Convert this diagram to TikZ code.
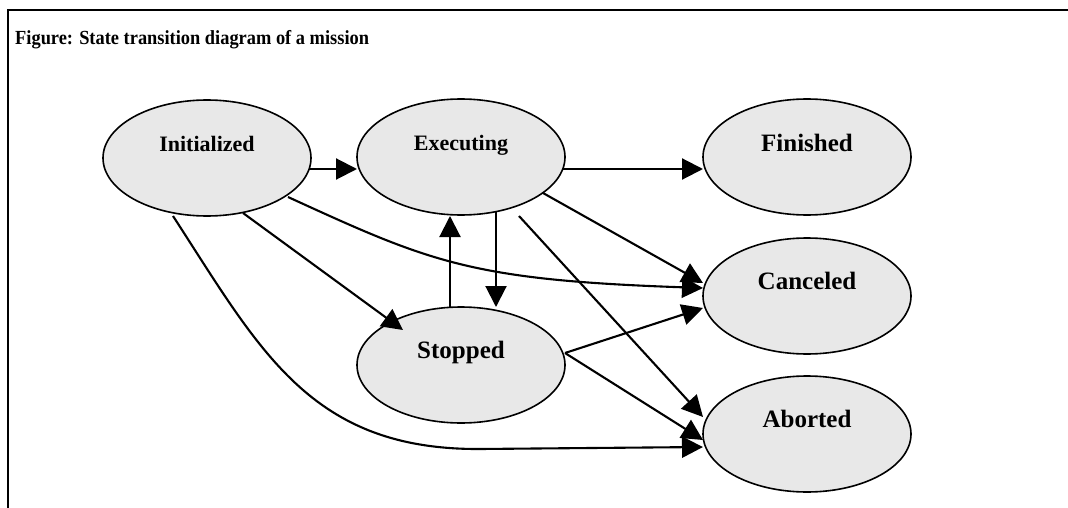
\documentclass[tikz,border=0pt]{standalone}
\usepackage{fontspec}
\setmainfont{Liberation Serif}
\usetikzlibrary{shapes.geometric,arrows.meta,calc}
\definecolor{statefill}{RGB}{232,232,232}
\begin{document}
\begin{tikzpicture}[x=1pt,y=-1pt,
  state/.style={ellipse, draw, line width=1.6pt, fill=statefill,
    minimum width=208pt, minimum height=116pt, inner sep=0pt},
  smalltext/.style={font=\bfseries\fontsize{22}{24}\selectfont, anchor=base, inner sep=0pt},
  bigtext/.style={font=\bfseries\fontsize{25}{27}\selectfont, anchor=base, inner sep=0pt},
  trans/.style={line width=2.1pt, -{Triangle[length=21pt,width=21pt]}},
  frameline/.style={line width=2.6pt}]
\useasboundingbox (0,0) rectangle (1068,508);

% frame and caption
\draw[frameline] (8,508) -- (8,10) -- (1068,10);
\node[anchor=base west, inner sep=0pt, font=\bfseries\fontsize{20}{22}\selectfont]
  (title) at (15,45) {\scalebox{0.92}[1]{Figure: State transition diagram of a mission}};

% states
\node[state] (init)  at (207,158) {};
\node[state] (exec)  at (461,157) {};
\node[state] (fin)   at (807,157) {};
\node[state] (stop)  at (461,365) {};
\node[state] (canc)  at (807,296) {};
\node[state] (abort) at (807,434) {};

\node[smalltext] (init-l)  at ($(init.center)+(0,-7)$)  {Initialized};
\node[smalltext] (exec-l)  at ($(exec.center)+(0,-7)$)  {Executing};
\node[bigtext]   (fin-l)   at ($(fin.center)+(0,-6)$)   {Finished};
\node[bigtext]   (stop-l)  at ($(stop.center)+(0,-7)$)  {Stopped};
\node[bigtext]   (canc-l)  at ($(canc.center)+(0,-7)$)  {Canceled};
\node[bigtext]   (abort-l) at ($(abort.center)+(0,-7)$) {Aborted};

% transitions
\draw[trans] ($(init.center)+(102,11)$) -- ($(exec.center)+(-104,12)$);
\draw[trans] ($(exec.center)+(102,12)$) -- ($(fin.center)+(-104,12)$);
\draw[trans] ($(exec.center)+(35,55)$) -- ($(stop.center)+(35,-58)$);
\draw[trans] ($(stop.center)+(-11,-58)$) -- ($(exec.center)+(-11,59)$);
\draw[trans] ($(init.center)+(36,55)$) -- ($(stop.center)+(-58,-35)$);
\draw[trans] ($(init.center)+(81,39)$) .. controls (430,262) and (470,280) .. ($(canc.center)+(-104,-8)$);
\draw[trans] ($(exec.center)+(82,36)$) -- ($(canc.center)+(-104,-13)$);
\draw[trans] ($(stop.center)+(104,-12)$) -- ($(canc.center)+(-104,12)$);
\draw[trans] ($(stop.center)+(104,-12)$) -- ($(abort.center)+(-104,6)$);
\draw[trans] ($(exec.center)+(58,59)$) -- ($(abort.center)+(-104,-17)$);
\draw[trans] ($(init.center)+(-34,58)$) .. controls (260,350) and (310,450) .. (480,449)
  -- ($(abort.center)+(-104,13)$);
\end{tikzpicture}
\end{document}
